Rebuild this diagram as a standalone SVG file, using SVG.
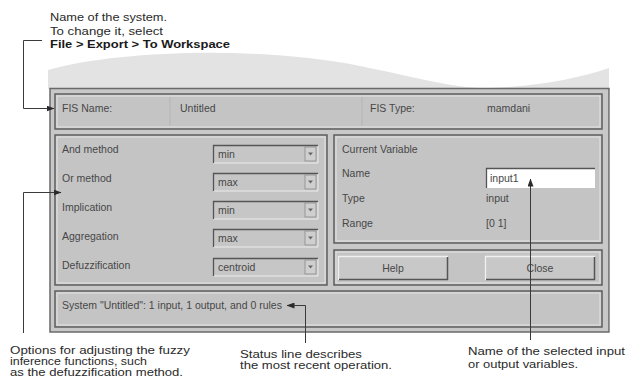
<svg xmlns="http://www.w3.org/2000/svg" width="629" height="381" viewBox="0 0 629 381">
  <defs>
    <style>
      .ui{font-family:"Liberation Sans",Arial,sans-serif;font-size:10.5px;fill:#474747}
      .note{font-family:"Liberation Sans",Arial,sans-serif;font-size:11.5px;fill:#2a2a2a}
      .bold{font-weight:bold;fill:#1a1a1a}
      .panel{fill:#c4c4c4;stroke:#5e5e5e;stroke-width:1.5}
      .etch{fill:none;stroke:#e4e4e4;stroke-width:1}
      .lead{fill:none;stroke:#3a3a3a;stroke-width:1}
      .sunk-dark{fill:none;stroke:#555;stroke-width:1.3}
      .sunk-light{fill:none;stroke:#ececec;stroke-width:1}
    </style>
    <marker id="arrow" viewBox="0 0 8 6" refX="7.5" refY="3" markerWidth="8" markerHeight="6" markerUnits="userSpaceOnUse" orient="auto">
      <path d="M0,0 L8,3 L0,6 Z" fill="#2a2a2a"/>
    </marker>
  </defs>

  <rect width="629" height="381" fill="#ffffff"/>

  <!-- torn-off top edge behind the window -->
  <path d="M48,89 V70 C120,50 260,46 360,66 C420,78 455,89 490,88 C540,86 580,78 609,68 V89 Z" fill="#e3e3e3"/>

  <!-- window body -->
  <g id="window">
    <rect x="50" y="88.5" width="559" height="243.5" fill="#c8c8c8" stroke="#6a6a6a" stroke-width="1.5"/>
    <line x1="609.5" y1="90" x2="609.5" y2="332" stroke="#9a9a9a" stroke-width="1"/>
  </g>

  <!-- FIS name / type strip -->
  <g id="fis-info">
    <rect class="panel" x="55" y="94" width="547" height="35"/>
    <rect class="etch" x="57" y="96" width="543" height="31"/>
    <line x1="170" y1="97" x2="170" y2="126" stroke="#b4b4b4"/>
    <line x1="362" y1="97" x2="362" y2="126" stroke="#b4b4b4"/>
    <text class="ui" x="62" y="111.5">FIS Name:</text>
    <text class="ui" x="180" y="111.5">Untitled</text>
    <text class="ui" x="370" y="111.5">FIS Type:</text>
    <text class="ui" x="487" y="111.5">mamdani</text>
  </g>

  <!-- inference method options -->
  <g id="methods">
    <rect class="panel" x="55" y="135" width="272" height="150"/>
    <rect class="etch" x="57" y="137" width="268" height="146"/>
    <text class="ui" x="62" y="152.5">And method</text>
    <text class="ui" x="62" y="181.5">Or method</text>
    <text class="ui" x="62" y="210.5">Implication</text>
    <text class="ui" x="62" y="239.5">Aggregation</text>
    <text class="ui" x="62" y="268.5">Defuzzification</text>
  </g>

  <g id="and-method">
    <rect x="213" y="145" width="105" height="18" fill="#c6c6c6"/>
    <path class="sunk-dark" d="M213.5,163 V145.5 H318"/>
    <path class="sunk-light" d="M214,163 H318 V146"/>
    <rect x="305" y="147" width="11" height="14" fill="#cfcfcf" stroke="#8a8a8a" stroke-width="0.8"/>
    <path d="M308,152.5 h5 l-2.5,3 z" fill="#666"/>
    <text class="ui" x="218" y="157.5">min</text>
  </g>
  <g id="or-method">
    <rect x="213" y="173" width="105" height="18" fill="#c6c6c6"/>
    <path class="sunk-dark" d="M213.5,191 V173.5 H318"/>
    <path class="sunk-light" d="M214,191 H318 V174"/>
    <rect x="305" y="175" width="11" height="14" fill="#cfcfcf" stroke="#8a8a8a" stroke-width="0.8"/>
    <path d="M308,180.5 h5 l-2.5,3 z" fill="#666"/>
    <text class="ui" x="218" y="185.5">max</text>
  </g>
  <g id="implication">
    <rect x="213" y="201" width="105" height="18" fill="#c6c6c6"/>
    <path class="sunk-dark" d="M213.5,219 V201.5 H318"/>
    <path class="sunk-light" d="M214,219 H318 V202"/>
    <rect x="305" y="203" width="11" height="14" fill="#cfcfcf" stroke="#8a8a8a" stroke-width="0.8"/>
    <path d="M308,208.5 h5 l-2.5,3 z" fill="#666"/>
    <text class="ui" x="218" y="213.5">min</text>
  </g>
  <g id="aggregation">
    <rect x="213" y="229" width="105" height="18" fill="#c6c6c6"/>
    <path class="sunk-dark" d="M213.5,247 V229.5 H318"/>
    <path class="sunk-light" d="M214,247 H318 V230"/>
    <rect x="305" y="231" width="11" height="14" fill="#cfcfcf" stroke="#8a8a8a" stroke-width="0.8"/>
    <path d="M308,236.5 h5 l-2.5,3 z" fill="#666"/>
    <text class="ui" x="218" y="241.5">max</text>
  </g>
  <g id="defuzzification">
    <rect x="213" y="258" width="105" height="18" fill="#c6c6c6"/>
    <path class="sunk-dark" d="M213.5,276 V258.5 H318"/>
    <path class="sunk-light" d="M214,276 H318 V259"/>
    <rect x="305" y="260" width="11" height="14" fill="#cfcfcf" stroke="#8a8a8a" stroke-width="0.8"/>
    <path d="M308,265.5 h5 l-2.5,3 z" fill="#666"/>
    <text class="ui" x="218" y="270.5">centroid</text>
  </g>

  <!-- current variable -->
  <g id="current-variable">
    <rect class="panel" x="334" y="135" width="268" height="108"/>
    <rect class="etch" x="336" y="137" width="264" height="104"/>
    <text class="ui" x="342" y="152.5">Current Variable</text>
    <text class="ui" x="342" y="176.5">Name</text>
    <text class="ui" x="342" y="201.5">Type</text>
    <text class="ui" x="342" y="226.5">Range</text>
    <rect x="486" y="168" width="109" height="20" fill="#ffffff"/>
    <path class="sunk-dark" d="M486.5,188 V168.5 H595"/>
    <text class="ui" x="490" y="181.5">input1</text>
    <text class="ui" x="486" y="201.5">input</text>
    <text class="ui" x="486" y="226.5">[0 1]</text>
  </g>

  <!-- Help / Close -->
  <g id="buttons">
    <rect class="panel" x="334" y="250" width="268" height="35"/>
    <rect class="etch" x="336" y="252" width="264" height="31"/>
  </g>
  <g id="help-button">
    <rect x="338" y="256" width="110" height="24" fill="#c8c8c8"/>
    <path d="M338.5,280 V256.5 H448" fill="none" stroke="#f0f0f0" stroke-width="1.3"/>
    <path d="M339,279.5 H447.5 V257" fill="none" stroke="#555" stroke-width="1.5"/>
    <text class="ui" x="393" y="271.5" text-anchor="middle">Help</text>
  </g>
  <g id="close-button">
    <rect x="485" y="256" width="110" height="24" fill="#c8c8c8"/>
    <path d="M485.5,280 V256.5 H595" fill="none" stroke="#f0f0f0" stroke-width="1.3"/>
    <path d="M486,279.5 H594.5 V257" fill="none" stroke="#555" stroke-width="1.5"/>
    <text class="ui" x="540" y="271.5" text-anchor="middle">Close</text>
  </g>

  <!-- status line -->
  <g id="status">
    <rect class="panel" x="55" y="291" width="547" height="36"/>
    <rect class="etch" x="57" y="293" width="543" height="32"/>
    <text class="ui" x="62" y="308.5">System "Untitled": 1 input, 1 output, and 0 rules</text>
  </g>

  <!-- callout leaders -->
  <g id="connectors">
    <path class="lead" d="M42,40.5 H23.5 V108.5 H54" marker-end="url(#arrow)"/>
    <path class="lead" d="M23.5,333 V192.5 H61" marker-end="url(#arrow)"/>
    <path class="lead" d="M305.5,343 V305.5 H287" marker-end="url(#arrow)"/>
    <path class="lead" d="M530.5,340 V179" marker-end="url(#arrow)"/>
  </g>

  <!-- callout texts -->
  <g id="note-system-name">
    <text class="note" x="50" y="21" textLength="117" lengthAdjust="spacingAndGlyphs">Name of the system.</text>
    <text class="note" x="50" y="34.5" textLength="113" lengthAdjust="spacingAndGlyphs">To change it, select</text>
    <text class="note bold" x="50" y="48" textLength="180" lengthAdjust="spacingAndGlyphs">File &gt; Export &gt; To Workspace</text>
  </g>
  <g id="note-options">
    <text class="note" x="10" y="354" textLength="180" lengthAdjust="spacingAndGlyphs">Options for adjusting the fuzzy</text>
    <text class="note" x="10" y="365" textLength="137" lengthAdjust="spacingAndGlyphs">inference functions, such</text>
    <text class="note" x="10" y="376" textLength="173" lengthAdjust="spacingAndGlyphs">as the defuzzification method.</text>
  </g>
  <g id="note-status">
    <text class="note" x="240" y="357.5" textLength="122" lengthAdjust="spacingAndGlyphs">Status line describes</text>
    <text class="note" x="240" y="369" textLength="152" lengthAdjust="spacingAndGlyphs">the most recent operation.</text>
  </g>
  <g id="note-variable">
    <text class="note" x="468" y="355" textLength="157" lengthAdjust="spacingAndGlyphs">Name of the selected input</text>
    <text class="note" x="468" y="367.5" textLength="110" lengthAdjust="spacingAndGlyphs">or output variables.</text>
  </g>
</svg>
